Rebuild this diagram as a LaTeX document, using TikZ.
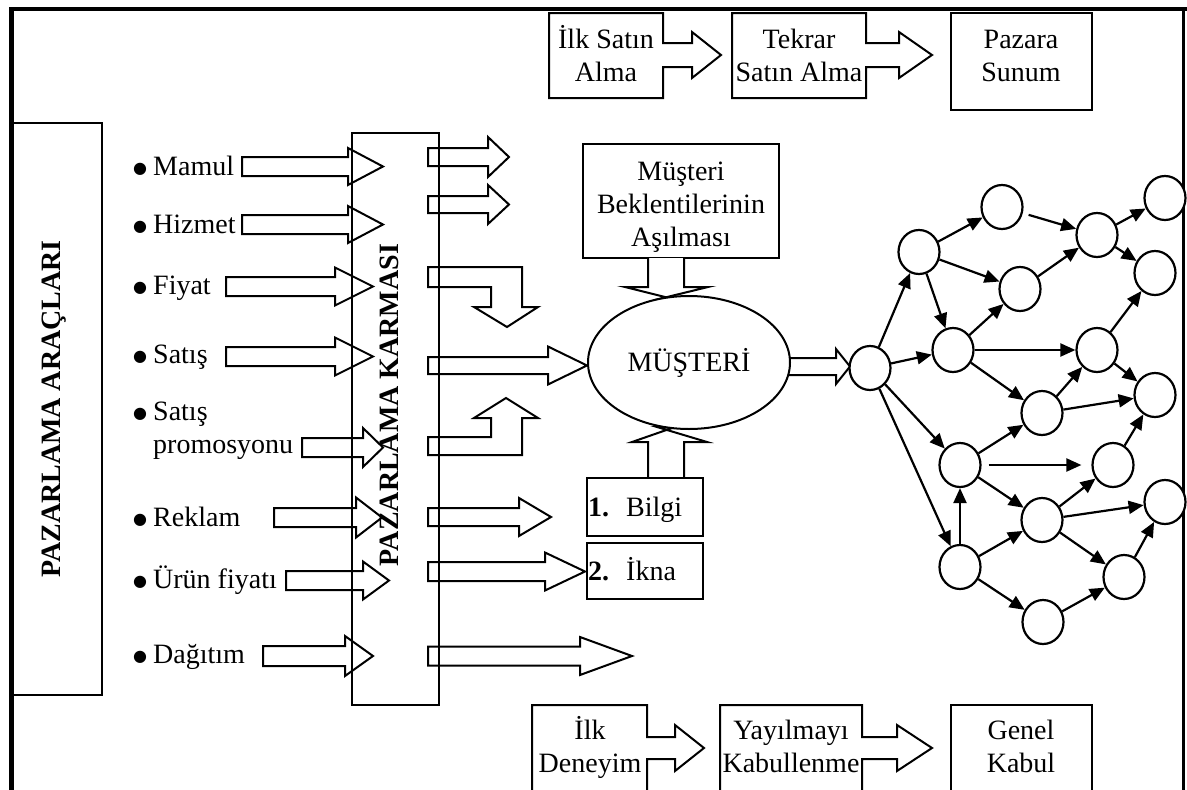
\documentclass[tikz,border=0pt]{standalone}
\usepackage{fontspec}
\setmainfont{Liberation Serif}
\newfontfamily\symbolfont{DejaVu Sans}
\usetikzlibrary{arrows.meta,shapes.geometric}
% fixed line height so stacked lines sit 33pt apart
\newcommand{\linestrut}{\rule[-8pt]{0pt}{33pt}}
% list bullet
\newcommand{\itembullet}{\makebox[18pt][l]{\hspace*{-2.2pt}\smash{\raisebox{1.8pt}{\symbolfont\fontsize{16}{16}\selectfont ●}}}}
% horizontal block arrow: x-start, head base x, tip x, centre y, half shaft, half head
\newcommand{\hblock}[6]{\draw[blk] (#1,#4-#5) -- (#2,#4-#5) -- (#2,#4-#6) -- (#3,#4) -- (#2,#4+#6) -- (#2,#4+#5) -- (#1,#4+#5) -- cycle;}
\begin{document}
\begin{tikzpicture}[x=1pt,y=-1pt,
  blk/.style={draw,line width=2pt,fill=white,line join=miter},
  boxed/.style={draw,line width=2pt,inner sep=0pt},
  lbl/.style={inner sep=0pt,font=\fontsize{28}{33}\selectfont,align=center},
  item/.style={inner sep=0pt,font=\fontsize{28}{33}\selectfont,anchor=base west},
  vert/.style={inner sep=0pt,font=\fontsize{28}{33}\selectfont\bfseries,rotate=90,anchor=base},
  dot/.style={ellipse,draw,line width=2.2pt,fill=white,minimum width=41pt,minimum height=44pt,inner sep=0pt},
  link/.style={line width=2.2pt,-{Triangle[length=15pt,width=13pt]}},
]
\useasboundingbox (0,0) rectangle (1187,790);

% outer frame
\draw[line width=4.5pt] (11.7,790) -- (11.7,9) -- (1187,9);
\draw[line width=2.2pt] (1183.5,9) -- (1183.5,790);

% marketing tools column
\node[boxed,minimum width=89pt,minimum height=572pt] (tools) at (57.5,409) {};
\node[vert] (toolsText) at (60,409) {PAZARLAMA ARAÇLARI};

% tool labels
\node[item] (mamul) at (135,175) {\itembullet Mamul};
\node[item] (hizmet) at (135,233) {\itembullet Hizmet};
\node[item] (fiyat) at (135,294) {\itembullet Fiyat};
\node[item] (satis) at (135,363) {\itembullet Satış};
\node[inner sep=0pt,font=\fontsize{28}{33}\selectfont,align=left,anchor=west] (promo) at (135,428)
  {\linestrut\itembullet Satış\\\linestrut\hspace*{18pt}promosyonu};
\node[item] (reklam) at (135,526) {\itembullet Reklam};
\node[item] (urun) at (135,588) {\itembullet Ürün fiyatı};
\node[item] (dagitim) at (135,663) {\itembullet Dağıtım};

% arrows into the marketing mix
\hblock{242}{348}{383}{166.5}{9.5}{18.5}
\hblock{242}{348}{383}{224.5}{9.5}{18.5}
\hblock{226}{335}{373}{286.5}{9.5}{19}
\hblock{226}{335}{373}{356.5}{9.5}{19}
\hblock{302}{363}{383}{447.5}{9.5}{19.5}
\hblock{274}{356}{382}{517.5}{9.5}{20}
\hblock{286}{363}{389}{580.5}{9.5}{19}
\hblock{263}{345}{373}{656}{10}{20}

% arrows out of the marketing mix
\hblock{428}{488}{509}{157}{9}{20}
\hblock{428}{488}{509}{204.5}{8.5}{19.5}
\draw[blk] (428,267) -- (522,267) -- (522,307) -- (538,307) -- (507,327) -- (474,307) -- (491,307) -- (491,287) -- (428,287) -- cycle;
\hblock{428}{548}{587}{365.5}{8.5}{19}
\draw[blk] (428,455) -- (522,455) -- (522,418) -- (538,418) -- (506,398) -- (474,418) -- (491,418) -- (491,437) -- (428,437) -- cycle;
\hblock{428}{519}{551}{517}{9}{19}
\hblock{428}{545}{585}{571.5}{9.5}{19}
\hblock{428}{580}{632}{656}{9.5}{19}

% marketing mix column
\node[boxed,minimum width=87pt,minimum height=572pt] (mix) at (395.5,419) {};
\node[vert] (mixText) at (398,405) {PAZARLAMA KARMASI};

% expectations box and the arrows feeding the customer
\node[boxed,minimum width=196pt,minimum height=114pt] (expect) at (681,201) {};
\node[lbl] (expectText) at (681,204.5) {\linestrut Müşteri\\\linestrut Beklentilerinin\\\linestrut Aşılması};
\draw[blk] (648,258) -- (648,287) -- (625,287) -- (671,298.5) -- (661,298.5) -- (708,287) -- (684,287) -- (684,258);
\draw[blk] (648,478) -- (648,442) -- (632,442) -- (675,427) -- (657,427) -- (707,442) -- (684,442) -- (684,478);

\node[boxed,minimum width=116pt,minimum height=58pt] (info) at (645,507) {};
\node[item] (infoText) at (588,516) {\makebox[38pt][l]{\bfseries 1.}Bilgi};
\node[boxed,minimum width=116pt,minimum height=56pt] (persuade) at (645,571) {};
\node[item] (persuadeText) at (588,580) {\makebox[38pt][l]{\bfseries 2.}İkna};

% customer and the arrow into the network
\hblock{785}{836}{850}{366.5}{8.5}{17.5}
\node[ellipse,draw,line width=2pt,fill=white,minimum width=202pt,minimum height=133pt,inner sep=0pt,
  font=\fontsize{28}{33}\selectfont] (cust) at (689,362.5) {MÜŞTERİ};

% purchase stages along the top
\draw[blk] (549,13) -- (663,13) -- (663,43) -- (692,43) -- (692,32) -- (721,55) -- (692,78) -- (692,67) -- (663,67) -- (663,98) -- (549,98) -- cycle;
\node[lbl] (firstBuy) at (606,56) {\linestrut İlk Satın\\\linestrut Alma};
\draw[blk] (732,13) -- (866,13) -- (866,43) -- (899,43) -- (899,32) -- (932,55) -- (899,78) -- (899,67) -- (866,67) -- (866,98) -- (732,98) -- cycle;
\node[lbl] (repeatBuy) at (799,56) {\linestrut Tekrar\\\linestrut Satın Alma};
\node[boxed,minimum width=141pt,minimum height=97pt] (market) at (1021.5,61.5) {};
\node[lbl] (marketText) at (1021,56) {\linestrut Pazara\\\linestrut Sunum};

% adoption stages along the bottom
\draw[blk] (532,800) -- (532,705) -- (647,705) -- (647,737) -- (675,737) -- (675,725) -- (704,748) -- (675,771) -- (675,759) -- (647,759) -- (647,800);
\node[lbl] (trial) at (590,747) {\linestrut İlk\\\linestrut Deneyim};
\draw[blk] (720,800) -- (720,705) -- (862,705) -- (862,737) -- (897,737) -- (897,725) -- (932,748) -- (897,771) -- (897,759) -- (862,759) -- (862,800);
\node[lbl] (spread) at (791,747) {\linestrut Yayılmayı\\\linestrut Kabullenme};
\node[boxed,minimum width=141pt,minimum height=110pt] (general) at (1021.5,760) {};
\node[lbl] (generalText) at (1021,747) {\linestrut Genel\\\linestrut Kabul};

% diffusion network
\node[dot] (A) at (870,368) {};
\node[dot] (B) at (919,252) {};
\node[dot] (C) at (1002,207) {};
\node[dot] (D) at (1097,235) {};
\node[dot] (E) at (1165,198) {};
\node[dot] (F) at (1020,289) {};
\node[dot] (G) at (1155,273) {};
\node[dot] (H) at (953,350) {};
\node[dot] (I) at (1097,350) {};
\node[dot] (J) at (1042,413) {};
\node[dot] (K) at (1155,395) {};
\node[dot] (L) at (960,465) {};
\node[dot] (M) at (1113,465) {};
\node[dot] (N) at (1042,520) {};
\node[dot] (O) at (1165,502) {};
\node[dot] (P) at (960,567) {};
\node[dot] (Q) at (1124,577) {};
\node[dot] (R) at (1043,622) {};

\draw[link] (A) -- (B);
\draw[link] (A) -- (H);
\draw[link] (A) -- (L);
\draw[link] (A) -- (P);
\draw[link] (B) -- (C);
\draw[link] (B) -- (F);
\draw[link] (B) -- (H);
\draw[link,shorten <=6pt] (C) -- (D);
\draw[link] (D) -- (E);
\draw[link] (D) -- (G);
\draw[link] (F) -- (D);
\draw[link] (H) -- (F);
\draw[link] (H) -- (I);
\draw[link] (H) -- (J);
\draw[link] (I) -- (G);
\draw[link] (I) -- (K);
\draw[link] (J) -- (I);
\draw[link] (J) -- (K);
\draw[link] (L) -- (J);
\draw[link,shorten <=7pt,shorten >=10pt] (L) -- (M);
\draw[link] (L) -- (N);
\draw[link] (M) -- (K);
\draw[link] (N) -- (M);
\draw[link] (N) -- (O);
\draw[link] (N) -- (Q);
\draw[link] (P) -- (L);
\draw[link] (P) -- (N);
\draw[link] (P) -- (R);
\draw[link] (Q) -- (O);
\draw[link] (R) -- (Q);
\end{tikzpicture}
\end{document}
